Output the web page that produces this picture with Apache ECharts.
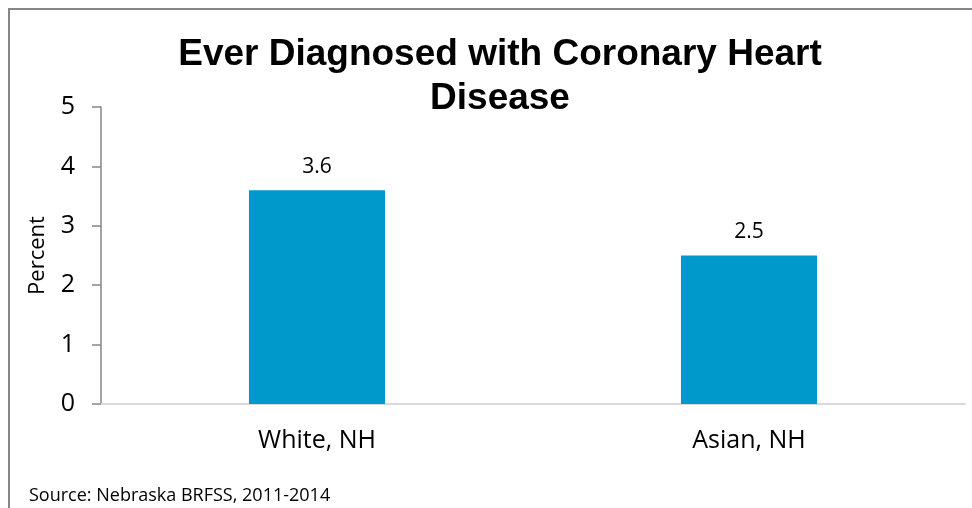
<!DOCTYPE html>
<html><head><meta charset="utf-8">
<script src="https://cdn.jsdelivr.net/npm/echarts@6/dist/echarts.min.js"></script>
<style>html,body{margin:0;padding:0;background:#fff}#c{width:972px;height:508px}</style>
</head><body><div id="c"></div>
<script>
const categories = ['White, NH', 'Asian, NH'];
const values = [3.6, 2.5];
const titleText = 'Ever Diagnosed with Coronary Heart\nDisease';
const yName = 'Percent';
const sourceText = 'Source: Nebraska BRFSS, 2011-2014';

const chart = echarts.init(document.getElementById('c'), null, {renderer: 'canvas'});
chart.setOption({
  animation: false,
  title: {
    text: titleText, left: 495, top: 28, textAlign: 'center',
    textStyle: {fontFamily: 'Liberation Sans, Arial', fontWeight: 'bold', fontSize: 37, lineHeight: 44, color: '#000'}
  },
  graphic: [
    {type: 'rect', shape: {x: 9, y: 9, width: 1000, height: 600}, style: {fill: 'none', stroke: '#868686', lineWidth: 2}, silent: true},
    {type: 'text', left: 29, top: 487, style: {text: sourceText, fontFamily: 'Open Sans, Noto Sans', fontSize: 18, fill: '#000'}}
  ],
  grid: {left: 101, right: 7, top: 107, bottom: 104},
  xAxis: {
    type: 'category', data: categories,
    axisLine: {lineStyle: {color: '#d9d9d9', width: 2}},
    axisTick: {show: false},
    axisLabel: {fontFamily: 'Open Sans, Noto Sans', fontSize: 25, color: '#000', margin: 24}
  },
  yAxis: {
    type: 'value', min: 0, max: 5, interval: 1,
    name: yName, nameLocation: 'middle', nameGap: 52, nameRotate: 90,
    nameTextStyle: {fontFamily: 'Open Sans, Noto Sans', fontSize: 22, color: '#000'},
    axisLine: {show: true, lineStyle: {color: '#868686', width: 1.5}},
    axisTick: {show: true, length: 9, lineStyle: {color: '#868686', width: 1.5}},
    splitLine: {show: false},
    axisLabel: {fontFamily: 'Open Sans, Noto Sans', fontSize: 25, color: '#000', margin: 26}
  },
  series: [{
    type: 'bar', data: values, barWidth: '31.5%',
    itemStyle: {color: '#0099cc'},
    label: {show: true, position: 'top', distance: 13, formatter: p => p.value.toFixed(1),
      fontFamily: 'Open Sans, Noto Sans', fontSize: 21, color: '#000'}
  }]
});
</script></body></html>
